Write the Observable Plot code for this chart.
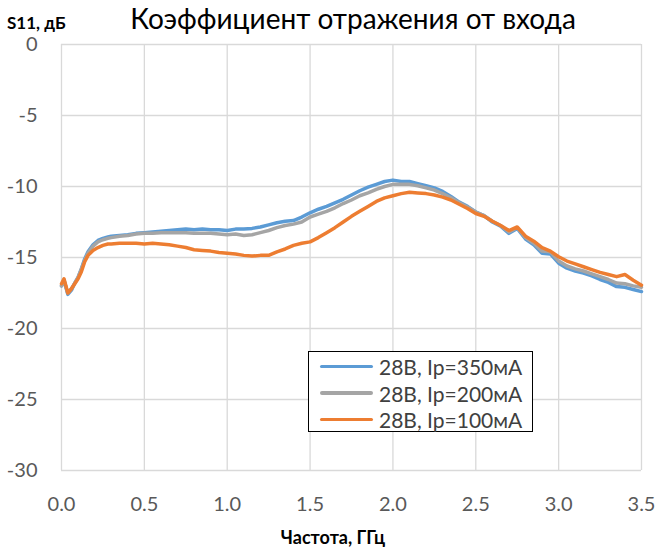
<!DOCTYPE html>
<html>
<head>
<meta charset="utf-8">
<script src="https://cdn.jsdelivr.net/npm/d3@7"></script>
<script src="https://cdn.jsdelivr.net/npm/@observablehq/plot@0.6"></script>
<style>
  html, body { margin: 0; padding: 0; background: #fff; }
  #wrap { position: relative; width: 657px; height: 551px; font-family: Lato, "Open Sans", sans-serif; }
  .ov { position: absolute; white-space: nowrap; }
  #title { left: 0; width: 706px; top: 1px; text-align: center; font-size: 28px; color: #000; }
  #ylab { left: 7px; top: 12px; font-size: 17px; font-weight: bold; color: #000; }
  #xlab { left: 0; width: 666px; top: 526px; text-align: center; font-size: 18px; font-weight: bold; color: #000; }
  #legend { left: 308px; top: 351px; width: 223px; height: 79px; border: 1.5px solid #000; background: #fff; }
  .row { position: absolute; left: 0; height: 27px; display: flex; align-items: center; }
  .sw { width: 53px; height: 3.5px; margin-left: 11px; margin-right: 6px; border-radius: 2px; }
  .lt { font-size: 21px; color: #404040; }
</style>
</head>
<body>
<div id="wrap">
  <div id="chart"></div>
  <div class="ov" id="title">Коэффициент отражения от входа</div>
  <div class="ov" id="ylab">S11, дБ</div>
  <div class="ov" id="xlab">Частота, ГГц</div>
  <div class="ov" id="legend"></div>
</div>
<script>
const freq = [0, 0.015, 0.038, 0.06, 0.08, 0.10, 0.12, 0.14, 0.16, 0.19, 0.22, 0.25, 0.28,
  0.30, 0.35, 0.40, 0.45, 0.50, 0.55, 0.60, 0.65, 0.70, 0.75, 0.80, 0.85, 0.90, 0.95,
  1.00, 1.05, 1.10, 1.15, 1.20, 1.25, 1.30, 1.35, 1.40, 1.45, 1.50, 1.55, 1.60, 1.65,
  1.70, 1.75, 1.80, 1.85, 1.90, 1.95, 2.00, 2.05, 2.10, 2.15, 2.20, 2.25, 2.30, 2.35,
  2.40, 2.45, 2.50, 2.55, 2.60, 2.65, 2.70, 2.75, 2.80, 2.85, 2.90, 2.95, 3.00, 3.05,
  3.10, 3.15, 3.20, 3.25, 3.30, 3.35, 3.40, 3.45, 3.50];

const s350 = [-17.0, -16.6, -17.6, -17.3, -16.8, -16.4, -15.8, -15.1, -14.6, -14.1, -13.8, -13.65, -13.55,
  -13.5, -13.45, -13.4, -13.3, -13.25, -13.2, -13.15, -13.1, -13.05, -13.0, -13.05, -13.0, -13.05, -13.05,
  -13.1, -13.0, -13.0, -12.95, -12.85, -12.7, -12.55, -12.45, -12.4, -12.15, -11.85, -11.6, -11.4, -11.15,
  -10.9, -10.6, -10.3, -10.05, -9.85, -9.65, -9.55, -9.65, -9.65, -9.8, -9.95, -10.1, -10.35, -10.7,
  -11.1, -11.4, -11.8, -12.05, -12.5, -12.8, -13.3, -12.95, -13.7, -14.1, -14.7, -14.75, -15.4, -15.75,
  -15.95, -16.1, -16.3, -16.55, -16.75, -17.05, -17.1, -17.25, -17.4];

const s200 = [-17.0, -16.6, -17.5, -17.2, -16.8, -16.4, -15.8, -15.2, -14.7, -14.2, -13.9, -13.75, -13.65,
  -13.6, -13.5, -13.45, -13.35, -13.3, -13.3, -13.25, -13.25, -13.25, -13.25, -13.3, -13.3, -13.3, -13.35,
  -13.4, -13.35, -13.45, -13.4, -13.25, -13.1, -12.9, -12.75, -12.65, -12.5, -12.15, -11.95, -11.75, -11.5,
  -11.2, -10.95, -10.65, -10.45, -10.2, -10.0, -9.85, -9.85, -9.85, -9.95, -10.1, -10.25, -10.5, -10.8,
  -11.15, -11.45, -11.8, -12.05, -12.45, -12.75, -13.2, -12.9, -13.6, -14.0, -14.55, -14.6, -15.25, -15.6,
  -15.8, -15.95, -16.15, -16.35, -16.55, -16.8, -16.85, -17.0, -17.1];

const s100 = [-16.85, -16.5, -17.5, -17.2, -16.85, -16.5, -16.0, -15.3, -14.85, -14.5, -14.3, -14.15, -14.05,
  -14.05, -14.0, -14.0, -14.0, -14.05, -14.0, -14.05, -14.1, -14.2, -14.3, -14.45, -14.5, -14.55, -14.65,
  -14.7, -14.75, -14.85, -14.9, -14.85, -14.85, -14.6, -14.4, -14.15, -14.0, -13.9, -13.6, -13.25, -12.9,
  -12.5, -12.1, -11.75, -11.4, -11.05, -10.8, -10.65, -10.5, -10.4, -10.45, -10.5, -10.6, -10.75, -10.95,
  -11.25, -11.55, -11.9, -12.1, -12.45, -12.75, -13.1, -12.85, -13.5, -13.85, -14.3, -14.55, -14.95, -15.25,
  -15.45, -15.65, -15.85, -16.05, -16.2, -16.35, -16.2, -16.6, -16.95];

const seriesNames = ["28В, Ip=350мА", "28В, Ip=200мА", "28В, Ip=100мА"];
const seriesColors = ["#5b9bd5", "#a5a5a5", "#ed7d31"];
const seriesValues = [s350, s200, s100];

const xTicks = [0, 0.5, 1.0, 1.5, 2.0, 2.5, 3.0, 3.5];
const yTicks = [0, -5, -10, -15, -20, -25, -30];

const rows = [];
seriesValues.forEach((vals, si) => {
  vals.forEach((v, i) => rows.push({f: freq[i], s: v, name: seriesNames[si]}));
});

const chart = Plot.plot({
  width: 657,
  height: 551,
  marginTop: 44,
  marginBottom: 81,
  marginLeft: 61,
  marginRight: 16,
  style: {fontFamily: "Lato, 'Open Sans', sans-serif", background: "#fff"},
  x: {domain: [0, 3.5]},
  y: {domain: [-30, 0]},
  color: {domain: seriesNames, range: seriesColors},
  marks: [
    Plot.ruleX(xTicks, {stroke: "#d9d9d9", strokeWidth: 1.3}),
    Plot.ruleY(yTicks, {stroke: "#d9d9d9", strokeWidth: 1.3}),
    Plot.axisX(xTicks, {tickSize: 0, tickPadding: 26, fontSize: 20, fill: "#595959", tickFormat: d3.format(".1f"), label: null}),
    Plot.axisY(yTicks, {tickSize: 0, tickPadding: 24, fontSize: 20, fill: "#595959", tickFormat: d => String(d), label: null}),
    Plot.line(rows, {x: "f", y: "s", z: "name", stroke: "name", strokeWidth: 3.5, strokeLinejoin: "round", strokeLinecap: "round"})
  ]
});
document.getElementById("chart").appendChild(chart);

const leg = document.getElementById("legend");
seriesNames.forEach((n, i) => {
  const r = document.createElement("div");
  r.className = "row";
  r.style.top = (1 + i * 26.5) + "px";
  r.innerHTML = `<div class="sw" style="background:${seriesColors[i]}"></div><span class="lt">${n}</span>`;
  leg.appendChild(r);
});
</script>
</body>
</html>
